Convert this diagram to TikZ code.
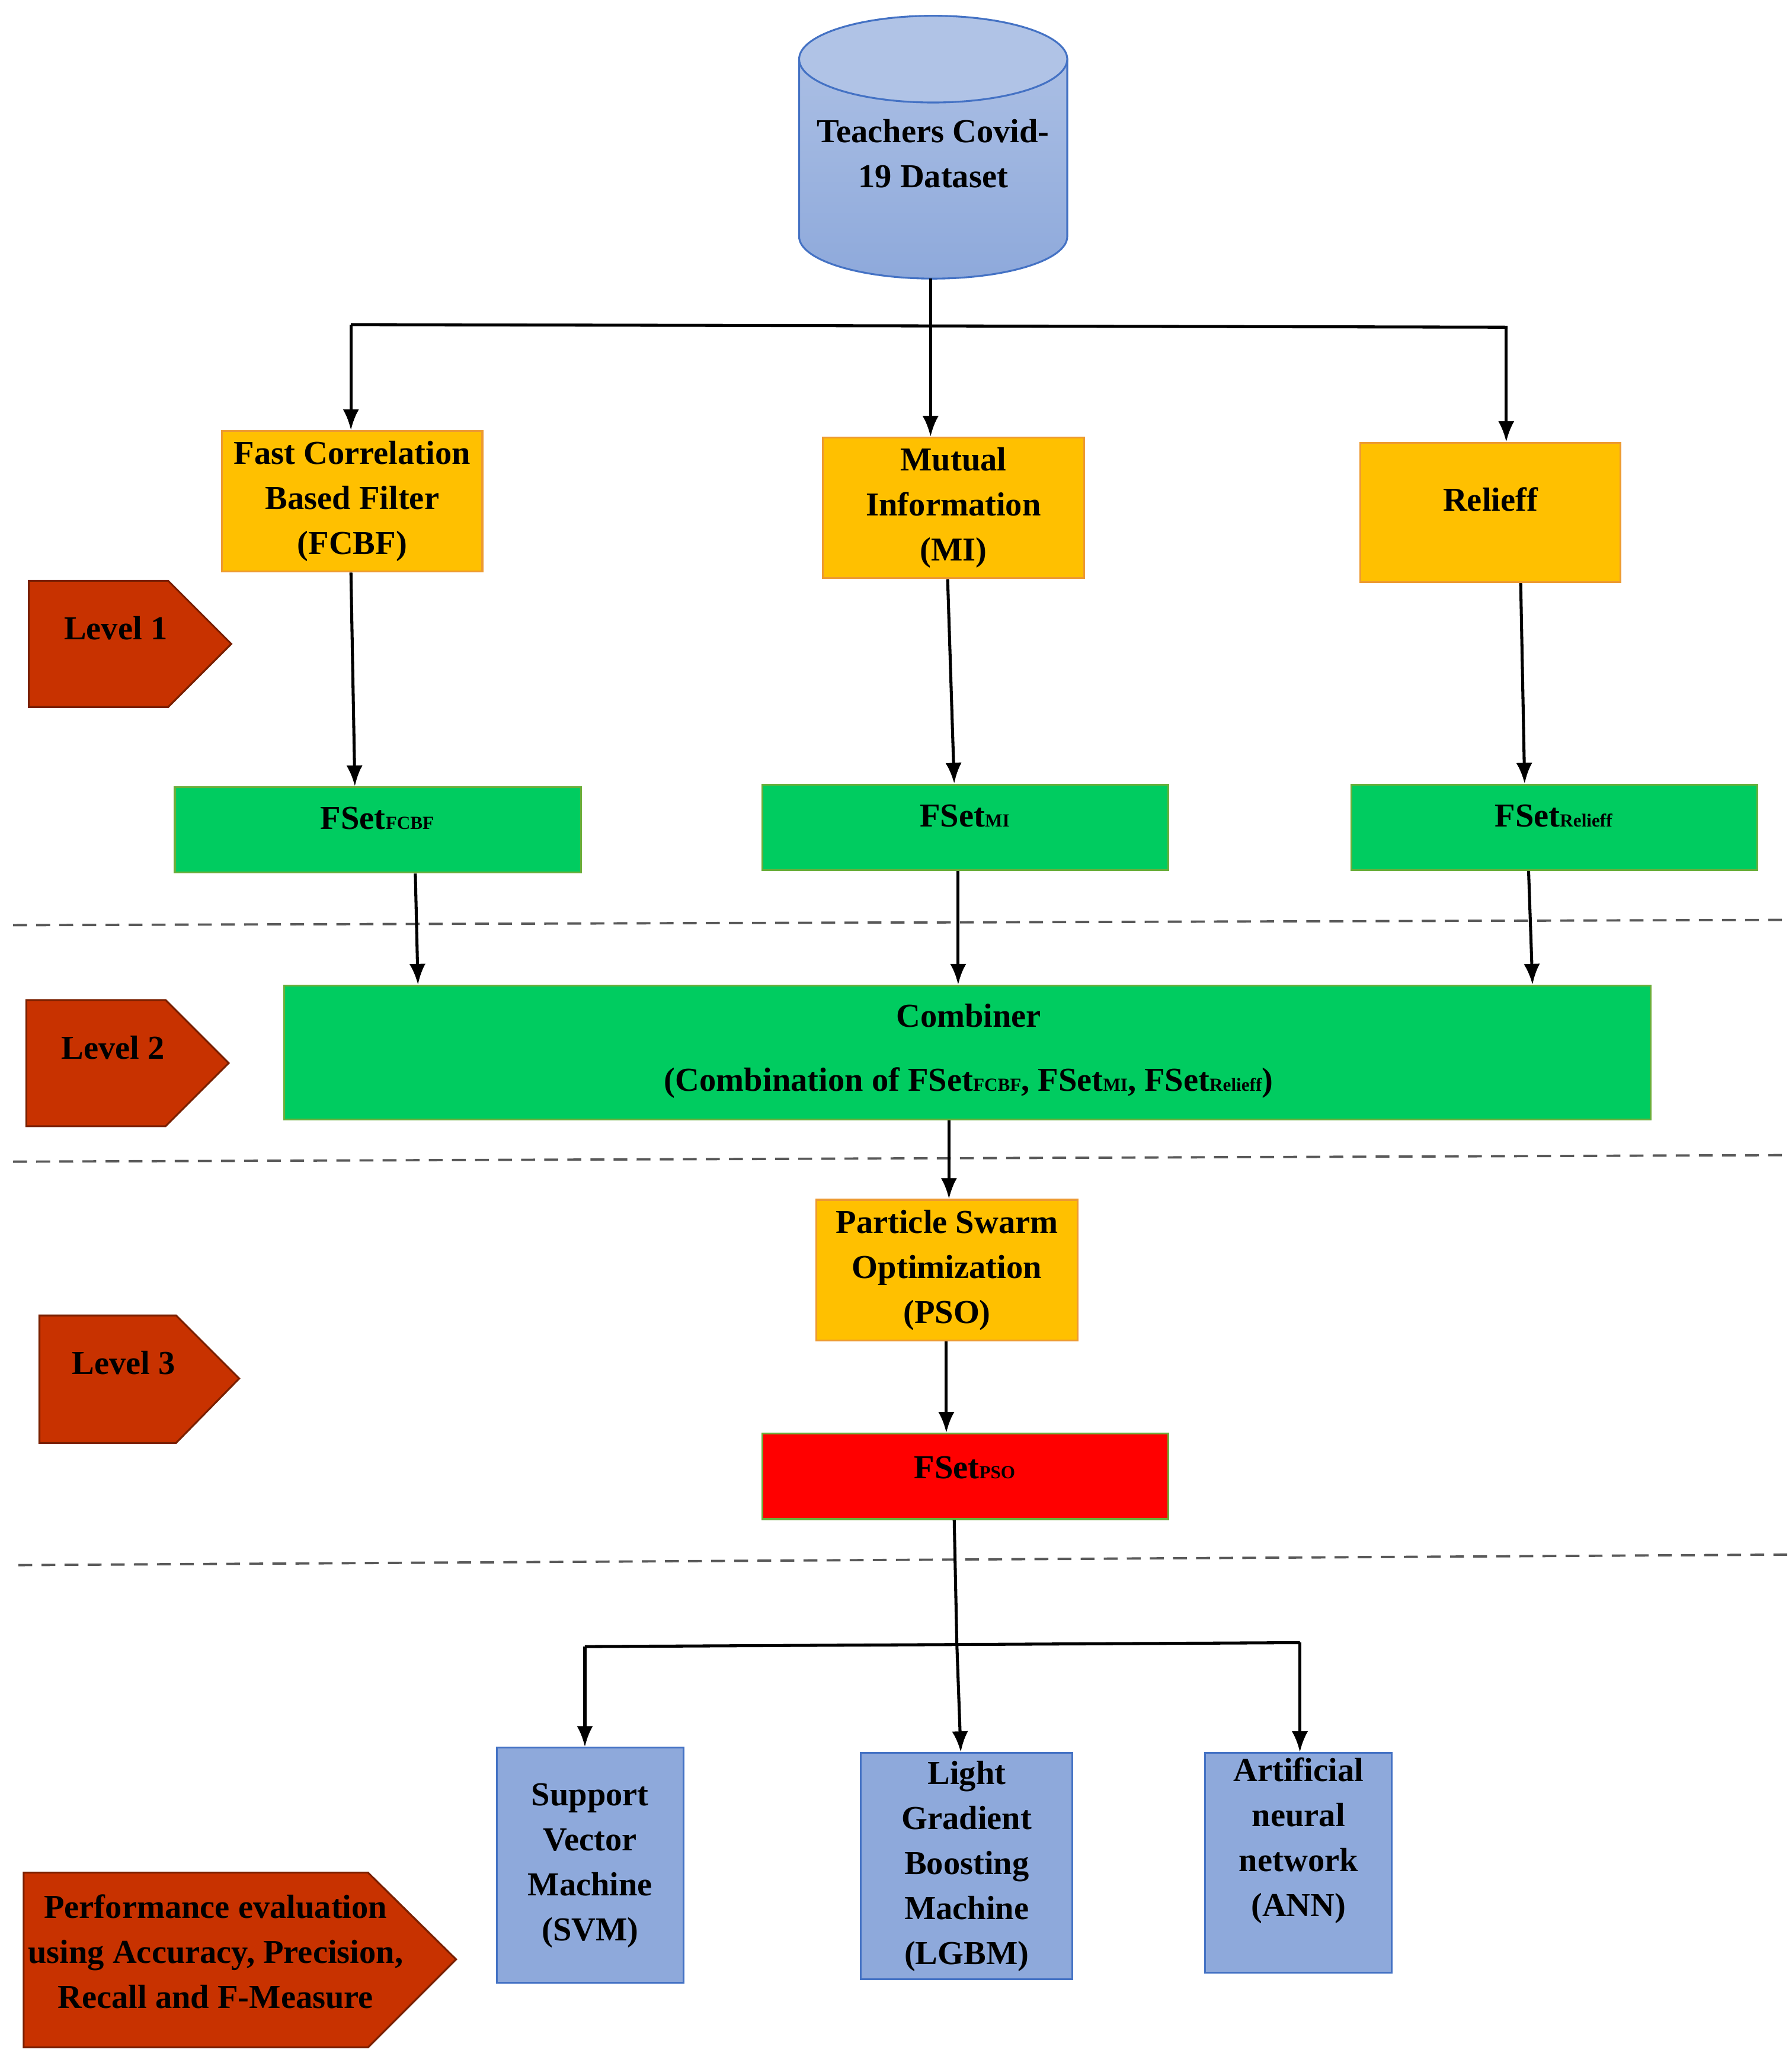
\documentclass[tikz,border=0pt]{standalone}
\usepackage{fontspec}
\setmainfont{Liberation Serif}
\usetikzlibrary{fit,arrows.meta,calc}
\definecolor{org}{HTML}{FFC000}\definecolor{orgb}{HTML}{ED9A31}
\definecolor{grn}{HTML}{00CC60}\definecolor{grnb}{HTML}{6AAE3A}
\definecolor{blu}{HTML}{8EA9DB}\definecolor{blub}{HTML}{4472C4}
\definecolor{lvl}{HTML}{C83200}\definecolor{lvlb}{HTML}{7A2000}
\newcommand{\mysb}[1]{{\fontsize{8}{8}\selectfont #1}}
\begin{document}
\begin{tikzpicture}[x=0.02cm,y=-0.02cm,
 box/.style={inner sep=0,draw,line width=0.8pt},
 ob/.style={box,fill=org,draw=orgb},
 gb/.style={box,fill=grn,draw=grnb},
 bb/.style={box,fill=blu,draw=blub},
 rb/.style={box,fill=red,draw=grnb},
 txt/.style={font=\bfseries\fontsize{14.5}{17.5}\selectfont,align=center},
 ar/.style={-{Latex[length=9pt,width=7pt]},line width=1.3pt},
 ln/.style={line width=1.3pt},
 dsh/.style={dashed,gray!70!black,line width=1pt,dash pattern=on 6pt off 4pt},
 lv/.style={fill=lvl,draw=lvlb,line width=0.8pt}]
\useasboundingbox (0,0) rectangle (1363,1560);
% cylinder
\path[top color=blu!75!white,bottom color=blu,draw=blub,line width=0.8pt]
 (608,45) -- (608,180) arc[start angle=180,end angle=360,x radius=102,y radius=-32] -- (812,45) -- cycle;
\path[fill=blu!70!white,draw=blub,line width=0.8pt] (710,45) ellipse[x radius=102,y radius=33];
\node[txt] (ds) at (710,117) {Teachers Covid-\\[2pt]19 Dataset};
\coordinate (dsb) at (708,212);
% level 1 boxes
\node[ob,fit={(169,328) (367,435)}] (fcbf) {};
\node[txt] at (fcbf.center) {Fast Correlation\\[2pt]Based Filter\\[2pt](FCBF)};
\node[ob,fit={(626,333) (825,440)}] (mi) {};
\node[txt] at (mi.center) {Mutual\\[2pt]Information\\[2pt](MI)};
\node[ob,fit={(1035,337) (1233,443)}] (rel) {};
\node[txt] at ($(rel.center)+(0,-10)$) {Relieff};
\coordinate (jn) at (708,247);
\draw[ln] (dsb) -- (jn);
\draw[ln] (267,247) -- (1147,249);
\draw[ar] (267,247) -- (fcbf.north-|267,0);
\draw[ar] (jn) -- (mi.north-|708,0);
\draw[ar] (1146,249) -- (rel.north-|1146,0);
% FSet boxes
\node[gb,fit={(133,599) (442,664)}] (f1) {};
\node[txt,anchor=north] at (287,608) {FSet\mysb{FCBF}};
\node[gb,fit={(580,597) (889,662)}] (f2) {};
\node[txt,anchor=north] at (734,606) {FSet\mysb{MI}};
\node[gb,fit={(1028,597) (1337,662)}] (f3) {};
\node[txt,anchor=north] at (1182,606) {FSet\mysb{Relieff}};
\draw[ar] (fcbf.south-|267,0) -- (f1.north-|270,0);
\draw[ar] (mi.south-|721,0) -- (f2.north-|726,0);
\draw[ar] (rel.south-|1157,0) -- (f3.north-|1160,0);
\draw[dsh] (10,704) -- (1360,700);
% combiner
\node[gb,fit={(216,750) (1256,852)}] (comb) {};
\node[txt] at (737,773) {Combiner};
\node[txt] at (737,824) {(Combination of FSet\mysb{FCBF}, FSet\mysb{MI}, FSet\mysb{Relieff})};
\draw[ar] (f1.south-|316,0) -- (comb.north-|318,0);
\draw[ar] (f2.south-|729,0) -- (comb.north-|729,0);
\draw[ar] (f3.south-|1163,0) -- (comb.north-|1166,0);
\draw[dsh] (10,884) -- (1360,879);
% PSO
\node[ob,fit={(621,913) (820,1020)}] (pso) {};
\node[txt] at (pso.center) {Particle Swarm\\[2pt]Optimization\\[2pt](PSO)};
\draw[ar] (comb.south-|722,0) -- (pso.north-|722,0);
\node[rb,fit={(580,1091) (889,1156)}] (fp) {};
\node[txt,anchor=north] at (734,1102) {FSet\mysb{PSO}};
\draw[ar] (pso.south-|720,0) -- (fp.north-|720,0);
\draw[dsh] (14,1191) -- (1360,1183);
% classifiers
\node[bb,fit={(378,1330) (520,1509)}] (svm) {};
\node[txt] at (svm.center) {Support\\[2pt]Vector\\[2pt]Machine\\[2pt](SVM)};
\node[bb,fit={(655,1334) (816,1506)}] (lgbm) {};
\node[txt] at (lgbm.center) {Light\\[2pt]Gradient\\[2pt]Boosting\\[2pt]Machine\\[2pt](LGBM)};
\node[bb,fit={(917,1334) (1059,1501)}] (ann) {};
\node[txt] at ($(ann.center)+(0,-17)$) {Artificial\\[2pt]neural\\[2pt]network\\[2pt](ANN)};
\coordinate (jn2) at (728,1251);
\draw[ln] (fp.south-|726,0) -- (jn2);
\draw[ar] (jn2) -- (lgbm.north-|731,0);
\draw[ln] (445,1253) -- (989,1250);
\draw[ar] (445,1253) -- (svm.north-|445,0);
\draw[ar] (989,1250) -- (ann.north-|989,0);
% level arrows
\path[lv] (22,442) -- (128,442) -- (176,490) -- (128,538) -- (22,538) -- cycle;
\node[txt] (l1) at (88,478) {Level 1};
\path[lv] (20,761) -- (126,761) -- (174,809) -- (126,857) -- (20,857) -- cycle;
\node[txt] (l2) at (86,797) {Level 2};
\path[lv] (30,1001) -- (134,1001) -- (182,1049) -- (134,1098) -- (30,1098) -- cycle;
\node[txt] (l3) at (94,1037) {Level 3};
\path[lv] (18,1425) -- (280,1425) -- (347,1491) -- (280,1558) -- (18,1558) -- cycle;
\node[txt] (l4) at (164,1485) {Performance evaluation\\[2pt]using Accuracy, Precision,\\[2pt]Recall and F-Measure};
\end{tikzpicture}
\end{document}
